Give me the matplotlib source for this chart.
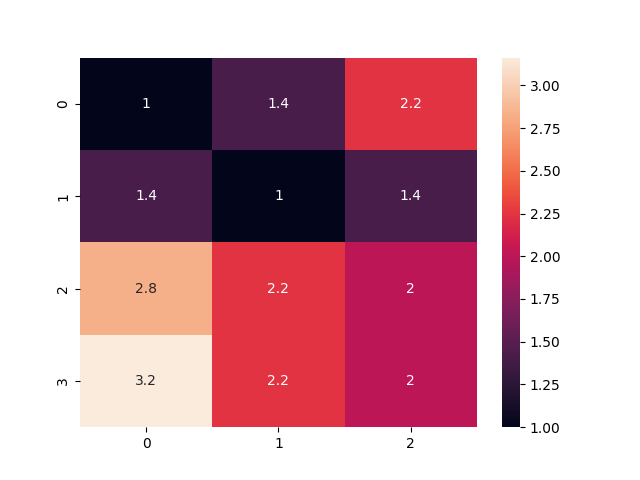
import numpy as np
import matplotlib
matplotlib.use("Agg")
import matplotlib.pyplot as plt
import seaborn as sns

# cell values (colorbar tops out near 3.16)
row0 = [1.0, 1.414, 2.236]
row1 = [1.414, 1.0, 1.414]
row2 = [2.828, 2.236, 2.0]
row3 = [3.162, 2.236, 2.0]

data = np.array([row0, row1, row2, row3])

fig, ax = plt.subplots(figsize=(6.4, 4.8), dpi=100)
sns.heatmap(data, annot=True, ax=ax)
plt.savefig("out.png", dpi=100)
